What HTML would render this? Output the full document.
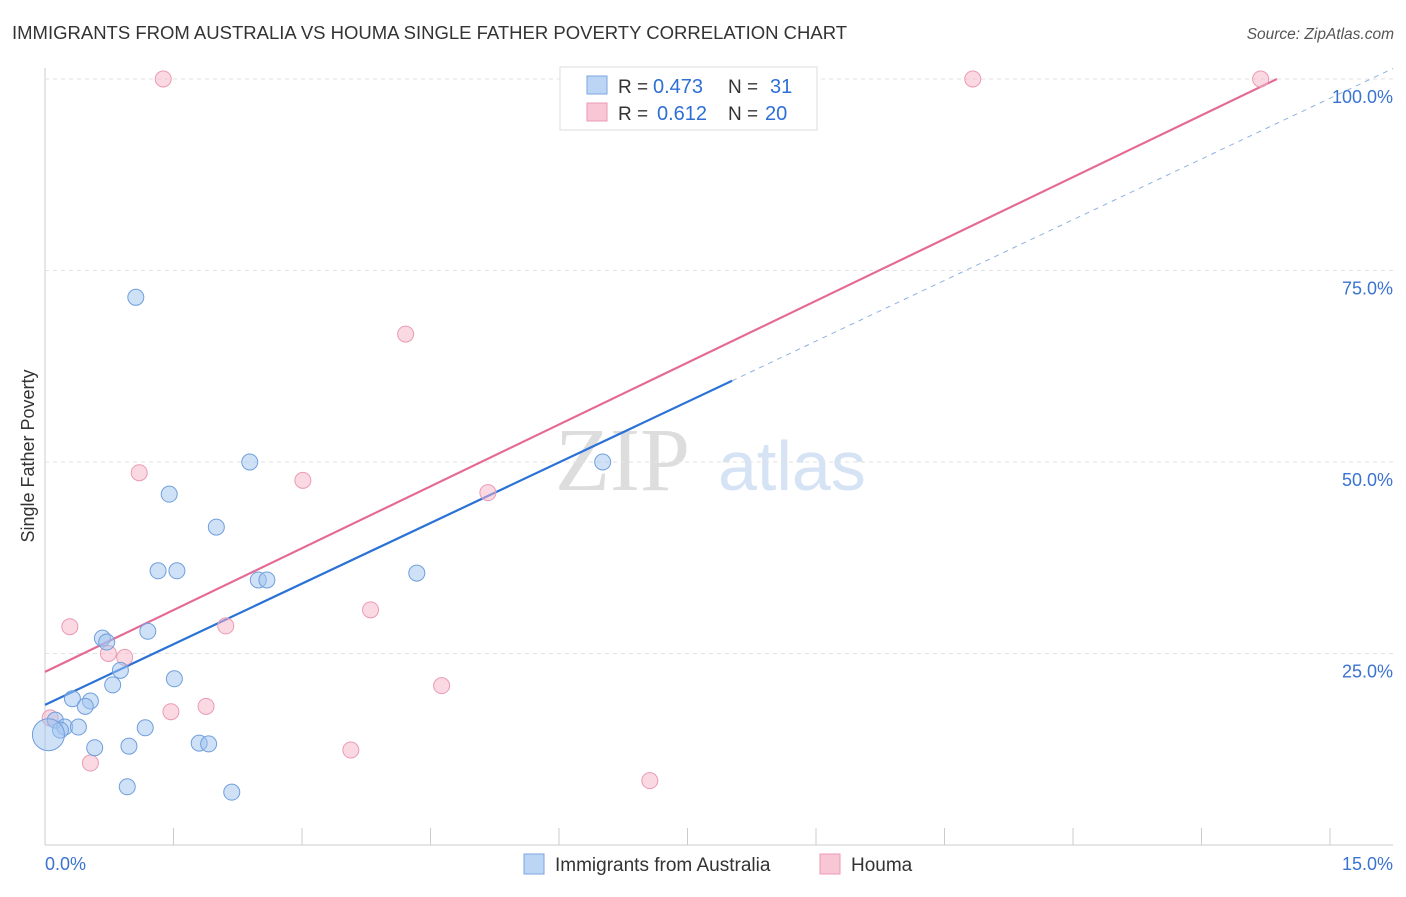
<!DOCTYPE html>
<html><head><meta charset="utf-8"><style>
body{margin:0;background:#fff;font-family:"Liberation Sans",sans-serif}
</style></head><body>
<svg width="1406" height="892" xmlns="http://www.w3.org/2000/svg" style="font-family:'Liberation Sans',sans-serif">
<text x="12" y="39" font-size="18.5" fill="#333">IMMIGRANTS FROM AUSTRALIA VS HOUMA SINGLE FATHER POVERTY CORRELATION CHART</text>
<text x="1394" y="39" font-size="15.5" fill="#555" font-style="italic" text-anchor="end">Source: ZipAtlas.com</text>
<text transform="translate(34,456) rotate(-90)" font-size="18" fill="#333" text-anchor="middle">Single Father Poverty</text>
<text x="555" y="490" font-size="90" fill="#ddd" font-family="Liberation Serif">ZIP</text>
<text x="718" y="490" font-size="70" fill="#d5e3f5">atlas</text>
<g id="axes"></g>
<g id="lines"></g>
<g id="points"></g>
<g>
<rect x="560" y="67" width="257" height="63" fill="#fff" stroke="#ddd"/>
<rect x="587" y="76" width="20" height="18" fill="#bcd5f5" stroke="#7aa6e0"/>
<rect x="587" y="103" width="20" height="18" fill="#f9c6d6" stroke="#ec9ab4"/>
<text x="618" y="93" font-size="19" fill="#333">R =</text>
<text x="653" y="93" font-size="20" fill="#2e6fd6">0.473</text>
<text x="728" y="93" font-size="19" fill="#333">N =</text>
<text x="770" y="93" font-size="20" fill="#2e6fd6">31</text>
<text x="618" y="120" font-size="19" fill="#333">R =</text>
<text x="657" y="120" font-size="20" fill="#2e6fd6">0.612</text>
<text x="728" y="120" font-size="19" fill="#333">N =</text>
<text x="765" y="120" font-size="20" fill="#2e6fd6">20</text>
</g>
<g>
<rect x="524" y="854" width="20" height="20" fill="#bcd5f5" stroke="#7aa6e0"/>
<text x="555" y="871" font-size="19" fill="#333">Immigrants from Australia</text>
<rect x="820" y="854" width="20" height="20" fill="#f9c6d6" stroke="#ec9ab4"/>
<text x="851" y="871" font-size="19" fill="#333">Houma</text>
</g>
</svg>
<script>
const blueX=[1.06,2.39,1.45,2.0,1.32,1.54,2.49,2.59,4.34,6.51,1.2,0.67,0.72,0.88,0.79,1.51,0.32,0.53,0.47,0.12,0.23,0.39,0.18,1.17,0.58,0.98,1.8,1.91,0.96,2.18,0.04];
const blueY=[71.5,50,45.8,41.5,35.8,35.8,34.6,34.6,35.5,50,27.9,27,26.5,22.8,20.9,21.7,19.1,18.8,18.1,16.3,15.4,15.4,15,15.3,12.7,12.9,13.3,13.2,7.6,6.9,14.4];
const pinkX=[1.38,10.83,14.19,4.21,1.1,3.01,5.17,0.29,2.11,3.8,0.74,0.93,4.63,1.47,1.88,3.57,0.53,7.06,0.06];
const pinkY=[100,100,100,66.7,48.6,47.6,46,28.5,28.6,30.7,25,24.5,20.8,17.4,18.1,12.4,10.7,8.4,16.6];
const yTicks=[25,50,75,100];
const blueLine=[18.3,60.6,8.02];
const pinkLine=[22.6,100,14.38];
const NS="http://www.w3.org/2000/svg";
const sx=v=>45+v/15*1285, sy=v=>845-v*7.66;
function mk(p,t,a){const e=document.createElementNS(NS,t);for(const k in a)e.setAttribute(k,a[k]);document.getElementById(p).appendChild(e);return e;}
let e=mk('axes','line',{x1:45,y1:845,x2:1393,y2:845,stroke:'#ccc'});

e=mk('axes','line',{x1:45,y1:68,x2:45,y2:845,stroke:'#ccc'});

for(let i=1;i<=10;i++){e=mk('axes','line',{x1:sx(i*1.5),y1:828,x2:sx(i*1.5),y2:845,stroke:'#ccc'});
}
yTicks.forEach(t=>{e=mk('axes','line',{x1:45,y1:sy(t),x2:1393,y2:sy(t),stroke:'#e2e2e2','stroke-dasharray':'4,4'});

e=mk('axes','text',{x:1393,y:sy(t)+24,'font-size':18,fill:'#3a73d0','text-anchor':'end'});e.textContent=t.toFixed(1)+'%';
});
e=mk('axes','text',{x:45,y:870,'font-size':18,fill:'#3a73d0'});e.textContent='0.0%';

e=mk('axes','text',{x:1393,y:870,'font-size':18,fill:'#3a73d0','text-anchor':'end'});e.textContent='15.0%';

const bs=(blueLine[1]-blueLine[0])/blueLine[2];
e=mk('lines','line',{x1:sx(0),y1:sy(blueLine[0]),x2:sx(blueLine[2]),y2:sy(blueLine[1]),stroke:'#2a72d6','stroke-width':2.2});

e=mk('lines','line',{x1:sx(blueLine[2]),y1:sy(blueLine[1]),x2:1393,y2:sy(blueLine[0]+bs*15.75),stroke:'#8fb2e0','stroke-width':1,'stroke-dasharray':'5,5'});

e=mk('lines','line',{x1:sx(0),y1:sy(pinkLine[0]),x2:sx(pinkLine[2]),y2:sy(pinkLine[1]),stroke:'#e56a93','stroke-width':2.2});

pinkX.forEach((x,i)=>{e=mk('points','circle',{cx:sx(x),cy:sy(pinkY[i]),r:8,fill:'rgba(246,180,200,0.5)',stroke:'#eb9ab5','stroke-width':1});
});
blueX.forEach((x,i)=>{e=mk('points','circle',{cx:sx(x),cy:sy(blueY[i]),r:i==30?16:8,fill:'rgba(160,195,240,0.5)',stroke:'#6f9fdc','stroke-width':1});
});
</script>
</body></html>
